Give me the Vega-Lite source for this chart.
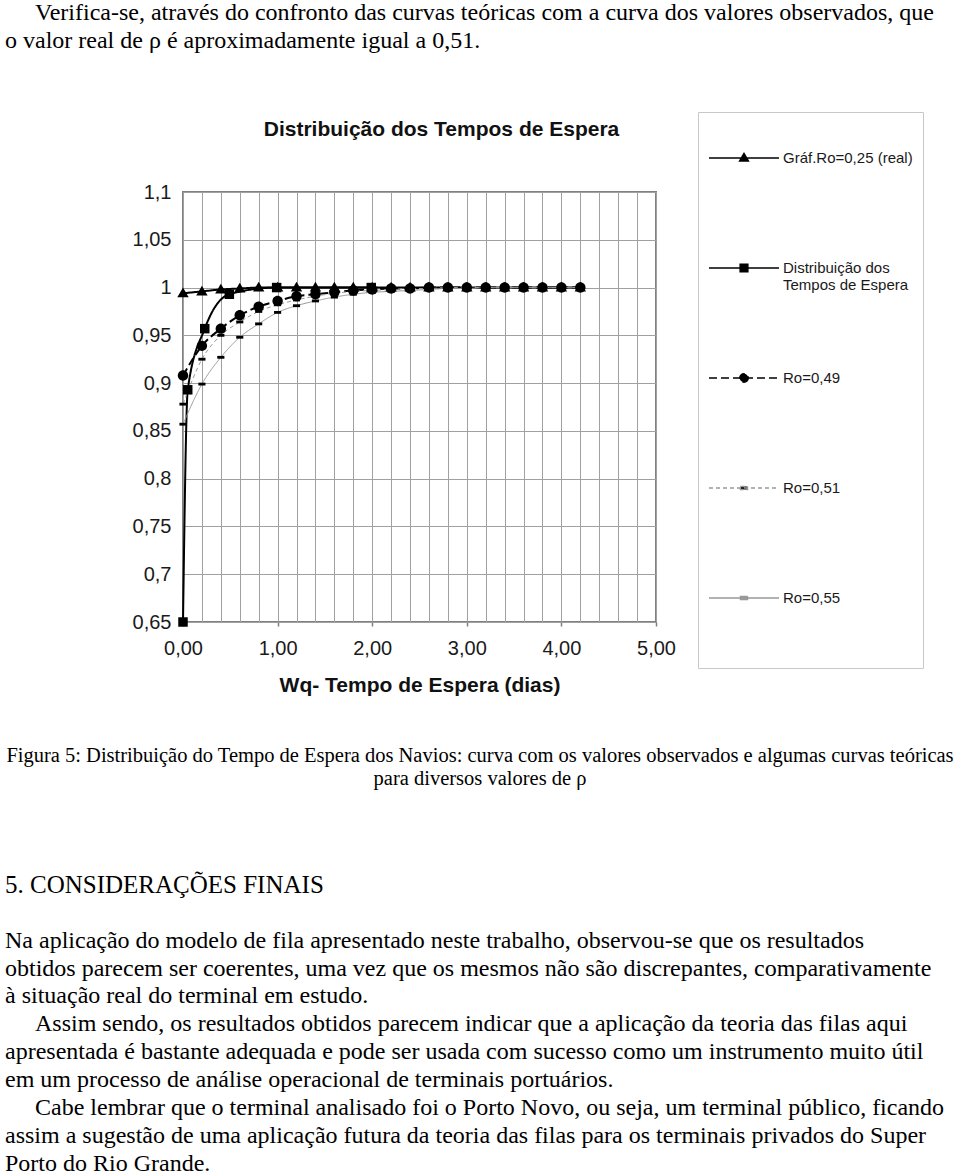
{
  "$schema": "https://vega.github.io/schema/vega-lite/v6.json",
  "background": "white",
  "padding": {"left": 5, "right": 5, "top": 0, "bottom": 0},
  "spacing": 0,
  "config": {
    "view": {"stroke": null},
    "font": "Liberation Sans",
    "axis": {"labelFont": "Liberation Sans", "titleFont": "Liberation Sans"}
  },
  "datasets": {
    "series": [
      {"serie": "Gráf.Ro=0,25 (real)", "x": 0, "y": 0.994},
      {"serie": "Gráf.Ro=0,25 (real)", "x": 0.2, "y": 0.996},
      {"serie": "Gráf.Ro=0,25 (real)", "x": 0.4, "y": 0.998},
      {"serie": "Gráf.Ro=0,25 (real)", "x": 0.6, "y": 0.999},
      {"serie": "Gráf.Ro=0,25 (real)", "x": 0.8, "y": 1},
      {"serie": "Gráf.Ro=0,25 (real)", "x": 1.0, "y": 1},
      {"serie": "Gráf.Ro=0,25 (real)", "x": 1.2, "y": 1},
      {"serie": "Gráf.Ro=0,25 (real)", "x": 1.4, "y": 1},
      {"serie": "Gráf.Ro=0,25 (real)", "x": 1.6, "y": 1},
      {"serie": "Gráf.Ro=0,25 (real)", "x": 1.8, "y": 1},
      {"serie": "Gráf.Ro=0,25 (real)", "x": 2.0, "y": 1},
      {"serie": "Gráf.Ro=0,25 (real)", "x": 2.2, "y": 1},
      {"serie": "Gráf.Ro=0,25 (real)", "x": 2.4, "y": 1},
      {"serie": "Gráf.Ro=0,25 (real)", "x": 2.6, "y": 1},
      {"serie": "Gráf.Ro=0,25 (real)", "x": 2.8, "y": 1},
      {"serie": "Gráf.Ro=0,25 (real)", "x": 3.0, "y": 1},
      {"serie": "Gráf.Ro=0,25 (real)", "x": 3.2, "y": 1},
      {"serie": "Gráf.Ro=0,25 (real)", "x": 3.4, "y": 1},
      {"serie": "Gráf.Ro=0,25 (real)", "x": 3.6, "y": 1},
      {"serie": "Gráf.Ro=0,25 (real)", "x": 3.8, "y": 1},
      {"serie": "Gráf.Ro=0,25 (real)", "x": 4.0, "y": 1},
      {"serie": "Gráf.Ro=0,25 (real)", "x": 4.2, "y": 1},
      {"serie": "Distribuição dos Tempos de Espera", "x": 0, "y": 0.65},
      {"serie": "Distribuição dos Tempos de Espera", "x": 0.05, "y": 0.893},
      {"serie": "Distribuição dos Tempos de Espera", "x": 0.23, "y": 0.957},
      {"serie": "Distribuição dos Tempos de Espera", "x": 0.49, "y": 0.993},
      {"serie": "Distribuição dos Tempos de Espera", "x": 0.99, "y": 1},
      {"serie": "Distribuição dos Tempos de Espera", "x": 1.99, "y": 1},
      {"serie": "Ro=0,49", "x": 0, "y": 0.908},
      {"serie": "Ro=0,49", "x": 0.2, "y": 0.939},
      {"serie": "Ro=0,49", "x": 0.4, "y": 0.957},
      {"serie": "Ro=0,49", "x": 0.6, "y": 0.971},
      {"serie": "Ro=0,49", "x": 0.8, "y": 0.98},
      {"serie": "Ro=0,49", "x": 1.0, "y": 0.986},
      {"serie": "Ro=0,49", "x": 1.2, "y": 0.991},
      {"serie": "Ro=0,49", "x": 1.4, "y": 0.993},
      {"serie": "Ro=0,49", "x": 1.6, "y": 0.995},
      {"serie": "Ro=0,49", "x": 1.8, "y": 0.997},
      {"serie": "Ro=0,49", "x": 2.0, "y": 0.998},
      {"serie": "Ro=0,49", "x": 2.2, "y": 0.999},
      {"serie": "Ro=0,49", "x": 2.4, "y": 0.999},
      {"serie": "Ro=0,49", "x": 2.6, "y": 1},
      {"serie": "Ro=0,49", "x": 2.8, "y": 1},
      {"serie": "Ro=0,49", "x": 3.0, "y": 1},
      {"serie": "Ro=0,49", "x": 3.2, "y": 1},
      {"serie": "Ro=0,49", "x": 3.4, "y": 1},
      {"serie": "Ro=0,49", "x": 3.6, "y": 1},
      {"serie": "Ro=0,49", "x": 3.8, "y": 1},
      {"serie": "Ro=0,49", "x": 4.0, "y": 1},
      {"serie": "Ro=0,49", "x": 4.2, "y": 1},
      {"serie": "Ro=0,51", "x": 0, "y": 0.878},
      {"serie": "Ro=0,51", "x": 0.2, "y": 0.925},
      {"serie": "Ro=0,51", "x": 0.4, "y": 0.95},
      {"serie": "Ro=0,51", "x": 0.6, "y": 0.964},
      {"serie": "Ro=0,51", "x": 0.8, "y": 0.975},
      {"serie": "Ro=0,51", "x": 1.0, "y": 0.982},
      {"serie": "Ro=0,51", "x": 1.2, "y": 0.987},
      {"serie": "Ro=0,51", "x": 1.4, "y": 0.991},
      {"serie": "Ro=0,51", "x": 1.6, "y": 0.994},
      {"serie": "Ro=0,51", "x": 1.8, "y": 0.996},
      {"serie": "Ro=0,51", "x": 2.0, "y": 0.997},
      {"serie": "Ro=0,51", "x": 2.2, "y": 0.998},
      {"serie": "Ro=0,51", "x": 2.4, "y": 0.999},
      {"serie": "Ro=0,51", "x": 2.6, "y": 0.999},
      {"serie": "Ro=0,51", "x": 2.8, "y": 1},
      {"serie": "Ro=0,51", "x": 3.0, "y": 1},
      {"serie": "Ro=0,51", "x": 3.2, "y": 1},
      {"serie": "Ro=0,51", "x": 3.4, "y": 1},
      {"serie": "Ro=0,51", "x": 3.6, "y": 1},
      {"serie": "Ro=0,51", "x": 3.8, "y": 1},
      {"serie": "Ro=0,51", "x": 4.0, "y": 1},
      {"serie": "Ro=0,51", "x": 4.2, "y": 1},
      {"serie": "Ro=0,55", "x": 0, "y": 0.857},
      {"serie": "Ro=0,55", "x": 0.2, "y": 0.899},
      {"serie": "Ro=0,55", "x": 0.4, "y": 0.927},
      {"serie": "Ro=0,55", "x": 0.6, "y": 0.948},
      {"serie": "Ro=0,55", "x": 0.8, "y": 0.962},
      {"serie": "Ro=0,55", "x": 1.0, "y": 0.974},
      {"serie": "Ro=0,55", "x": 1.2, "y": 0.981},
      {"serie": "Ro=0,55", "x": 1.4, "y": 0.986},
      {"serie": "Ro=0,55", "x": 1.6, "y": 0.99},
      {"serie": "Ro=0,55", "x": 1.8, "y": 0.993},
      {"serie": "Ro=0,55", "x": 2.0, "y": 0.995},
      {"serie": "Ro=0,55", "x": 2.2, "y": 0.996},
      {"serie": "Ro=0,55", "x": 2.4, "y": 0.997},
      {"serie": "Ro=0,55", "x": 2.6, "y": 0.998},
      {"serie": "Ro=0,55", "x": 2.8, "y": 0.999},
      {"serie": "Ro=0,55", "x": 3.0, "y": 0.999},
      {"serie": "Ro=0,55", "x": 3.2, "y": 1},
      {"serie": "Ro=0,55", "x": 3.4, "y": 1},
      {"serie": "Ro=0,55", "x": 3.6, "y": 1},
      {"serie": "Ro=0,55", "x": 3.8, "y": 1},
      {"serie": "Ro=0,55", "x": 4.0, "y": 1},
      {"serie": "Ro=0,55", "x": 4.2, "y": 1}
    ]
  },
  "vconcat": [
    {
      "width": 950,
      "height": 110,
      "data": {"values": [
        {"line": 1, "text": "\u200b\u00a0\u00a0\u00a0\u00a0\u00a0Verifica-se, através do confronto das curvas teóricas com a curva dos valores observados, que"},
        {"line": 2, "text": "o valor real de ρ é aproximadamente igual a 0,51."}
      ]},
      "mark": {"type": "text", "align": "left", "baseline": "middle", "font": "Liberation Serif", "fontSize": 24, "color": "#000000"},
      "encoding": {
        "x": {"datum": 0, "type": "quantitative", "scale": {"domain": [0, 1]}, "axis": null},
        "y": {"field": "line", "type": "quantitative", "scale": {"domain": [0.536, 4.464], "reverse": true, "nice": false, "zero": false}, "axis": null},
        "text": {"field": "text", "type": "nominal"}
      }
    },
    {
      "spacing": 0,
      "hconcat": [
        {
          "width": 1,
          "height": 1,
          "data": {"values": []},
          "mark": "text"
        },
        {
          "width": 473,
          "height": 430,
          "view": {"stroke": "#808080", "strokeWidth": 2},
          "data": {"name": "series"},
          "layer": [
            {
              "transform": [{"filter": {"field": "serie", "oneOf": ["Gráf.Ro=0,25 (real)", "Distribuição dos Tempos de Espera", "Ro=0,49"]}}],
              "mark": {"type": "line", "interpolate": "monotone", "strokeWidth": 2},
              "encoding": {
                "x": {"field": "x", "type": "quantitative", "scale": {"domain": [0, 5], "nice": false, "zero": false},
                  "axis": {"orient": "top", "values": [0, 0.2, 0.4, 0.6, 0.8, 1, 1.2, 1.4, 1.6, 1.8, 2, 2.2, 2.4, 2.6, 2.8, 3, 3.2, 3.4, 3.6, 3.8, 4, 4.2, 4.4, 4.6, 4.8, 5],
                    "grid": true, "gridColor": "#a0a0a0", "gridWidth": 1, "labels": false, "ticks": false, "domain": false,
                    "title": "Distribuição dos Tempos de Espera", "titleFontSize": 21, "titleFontWeight": "bold", "titleColor": "#111111",
                    "titlePadding": 53, "titleX": 258}},
                "y": {"field": "y", "type": "quantitative", "scale": {"domain": [0.65, 1.1], "nice": false, "zero": false},
                  "axis": {"values": [0.65, 0.7, 0.75, 0.8, 0.85, 0.9, 0.95, 1, 1.05, 1.1], "grid": true, "gridColor": "#a0a0a0", "gridWidth": 1,
                    "ticks": false, "domain": false, "labelExpr": "replace(format(datum.value, '.2~f'), '.', ',')",
                    "labelFontSize": 20, "labelColor": "#1a1a1a", "labelPadding": 12, "labelFlush": false, "labelOverlap": false,
                    "title": null, "minExtent": 176}},
                "stroke": {"field": "serie", "type": "nominal", "legend": null,
                  "scale": {"domain": ["Gráf.Ro=0,25 (real)", "Distribuição dos Tempos de Espera", "Ro=0,49", "Ro=0,51", "Ro=0,55"], "range": ["#000000", "#000000", "#000000", "#999999", "#999999"]}},
                "strokeDash": {"field": "serie", "type": "nominal", "legend": null,
                  "scale": {"domain": ["Gráf.Ro=0,25 (real)", "Distribuição dos Tempos de Espera", "Ro=0,49", "Ro=0,51", "Ro=0,55"], "range": [[1, 0], [1, 0], [8, 4], [4, 3], [1, 0]]}}
              }
            },
            {
              "transform": [{"filter": {"field": "serie", "oneOf": ["Ro=0,51", "Ro=0,55"]}}],
              "mark": {"type": "line", "interpolate": "monotone", "strokeWidth": 1},
              "encoding": {
                "x": {"field": "x", "type": "quantitative", "scale": {"domain": [0, 5], "nice": false, "zero": false}, "axis": null},
                "y": {"field": "y", "type": "quantitative", "scale": {"domain": [0.65, 1.1], "nice": false, "zero": false},
                  "axis": {"values": [0.65, 0.7, 0.75, 0.8, 0.85, 0.9, 0.95, 1, 1.05, 1.1], "grid": true, "gridColor": "#a0a0a0", "gridWidth": 1,
                    "ticks": false, "domain": false, "labelExpr": "replace(format(datum.value, '.2~f'), '.', ',')",
                    "labelFontSize": 20, "labelColor": "#1a1a1a", "labelPadding": 12, "labelFlush": false, "labelOverlap": false,
                    "title": null, "minExtent": 176}},
                "stroke": {"field": "serie", "type": "nominal", "legend": null,
                  "scale": {"domain": ["Gráf.Ro=0,25 (real)", "Distribuição dos Tempos de Espera", "Ro=0,49", "Ro=0,51", "Ro=0,55"], "range": ["#000000", "#000000", "#000000", "#999999", "#999999"]}},
                "strokeDash": {"field": "serie", "type": "nominal", "legend": null,
                  "scale": {"domain": ["Gráf.Ro=0,25 (real)", "Distribuição dos Tempos de Espera", "Ro=0,49", "Ro=0,51", "Ro=0,55"], "range": [[1, 0], [1, 0], [8, 4], [4, 3], [1, 0]]}}
              }
            },
            {
              "mark": {"type": "point", "filled": true, "color": "#000000", "opacity": 1, "size": 90, "strokeWidth": 0},
              "encoding": {
                "x": {"field": "x", "type": "quantitative", "scale": {"domain": [0, 5], "nice": false, "zero": false},
                  "axis": {"orient": "bottom", "values": [0, 1, 2, 3, 4, 5], "grid": false, "domain": false, "ticks": true, "tickSize": 4,
                    "tickColor": "#808080", "tickWidth": 1.5, "labelExpr": "replace(format(datum.value, '.2f'), '.', ',')",
                    "labelFontSize": 20, "labelColor": "#1a1a1a", "labelPadding": 12, "labelFlush": false, "labelOverlap": false,
                    "title": "Wq- Tempo de Espera (dias)", "titleFontSize": 21, "titleFontWeight": "bold", "titleColor": "#111111", "titlePadding": 16}},
                "y": {"field": "y", "type": "quantitative", "scale": {"domain": [0.65, 1.1], "nice": false, "zero": false},
                  "axis": {"values": [0.65, 0.7, 0.75, 0.8, 0.85, 0.9, 0.95, 1, 1.05, 1.1], "grid": true, "gridColor": "#a0a0a0", "gridWidth": 1,
                    "ticks": false, "domain": false, "labelExpr": "replace(format(datum.value, '.2~f'), '.', ',')",
                    "labelFontSize": 20, "labelColor": "#1a1a1a", "labelPadding": 12, "labelFlush": false, "labelOverlap": false,
                    "title": null, "minExtent": 176}},
                "shape": {"field": "serie", "type": "nominal", "legend": null,
                  "scale": {"domain": ["Gráf.Ro=0,25 (real)", "Distribuição dos Tempos de Espera", "Ro=0,49", "Ro=0,51", "Ro=0,55"],
                    "range": ["M0,-1.2L1.2,0.85L-1.2,0.85Z", "M-1,-1H1V1H-1Z", "M1.1,0A1.1,1.1,0,1,1,-1.1,0A1.1,1.1,0,1,1,1.1,0Z", "M-0.75,-0.3H0.75V0.3H-0.75Z", "M-0.75,-0.3H0.75V0.3H-0.75Z"]}}
              }
            },
            {
              "transform": [{"filter": "false"}],
              "mark": {"type": "point", "filled": true, "fill": "#000000", "opacity": 1},
              "encoding": {
                "shape": {"field": "serie", "type": "nominal",
                  "scale": {"domain": ["Gráf.Ro=0,25 (real)", "Distribuição dos Tempos de Espera", "Ro=0,49", "Ro=0,51", "Ro=0,55"],
                    "range": [
                      "M0,-1M0,1.61M-1,0H1M0,-0.13L0.125,0.085L-0.125,0.085Z",
                      "M0,-1M0,1.61M-1,0H1M-0.11,-0.11H0.11V0.11H-0.11Z",
                      "M0,-1M0,1.61M-1,0H1M0.12,0A0.12,0.12,0,1,1,-0.12,0A0.12,0.12,0,1,1,0.12,0Z",
                      "M0,-1M0,1.61M-1,0H1M-0.1,-0.045H0.1V0.045H-0.1Z",
                      "M0,-1M0,1.61M-1,0H1M-0.1,-0.045H0.1V0.045H-0.1Z"
                    ]},
                  "legend": {
                    "orient": "none", "legendX": 515, "legendY": -80, "direction": "vertical", "title": null,
                    "padding": 10, "strokeColor": "#c8c8c8", "fillColor": "#ffffff",
                    "symbolSize": 4900, "rowPadding": 12, "labelOffset": 3,
                    "labelFont": "Liberation Sans", "labelFontSize": 15, "labelColor": "#1a1a1a", "labelLimit": 300,
                    "labelExpr": "datum.label == 'Distribuição dos Tempos de Espera' ? ['Distribuição dos', 'Tempos de Espera'] : datum.label",
                    "encode": {
                      "symbols": {"strokeWidth": {"value": {"expr": "indexof(['Ro=0,51','Ro=0,55'], datum.value) >= 0 ? 1 : 2"}}},
                      "labels": {"dy": {"value": {"expr": "datum.value == 'Distribuição dos Tempos de Espera' ? 9 : 0"}}}
                    }
                  }},
                "stroke": {"field": "serie", "type": "nominal",
                  "scale": {"domain": ["Gráf.Ro=0,25 (real)", "Distribuição dos Tempos de Espera", "Ro=0,49", "Ro=0,51", "Ro=0,55"], "range": ["#000000", "#000000", "#000000", "#999999", "#999999"]}},
                "strokeDash": {"field": "serie", "type": "nominal",
                  "scale": {"domain": ["Gráf.Ro=0,25 (real)", "Distribuição dos Tempos de Espera", "Ro=0,49", "Ro=0,51", "Ro=0,55"], "range": [[1, 0], [1, 0], [8, 4], [4, 3], [1, 0]]}}
              }
            }
          ],
          "resolve": {
            "scale": {"shape": "independent", "stroke": "independent", "strokeDash": "independent"},
            "axis": {"x": "independent"}
          }
        }
      ]
    },
    {
      "width": 950,
      "height": 150,
      "data": {"values": [
        {"line": 1, "text": "Figura 5: Distribuição do Tempo de Espera dos Navios: curva com os valores observados e algumas curvas teóricas"},
        {"line": 2, "text": "para diversos valores de ρ"}
      ]},
      "mark": {"type": "text", "align": "center", "baseline": "middle", "font": "Liberation Serif", "fontSize": 20.5, "color": "#000000"},
      "encoding": {
        "y": {"field": "line", "type": "quantitative", "scale": {"domain": [-1.609, 4.913], "reverse": true, "nice": false, "zero": false}, "axis": null},
        "text": {"field": "text", "type": "nominal"}
      }
    },
    {
      "width": 950,
      "height": 328,
      "layer": [
        {
          "data": {"values": [{"line": 0, "text": "5. CONSIDERAÇÕES FINAIS"}]},
          "mark": {"type": "text", "align": "left", "baseline": "middle", "font": "Liberation Serif", "fontSize": 25, "color": "#000000"},
          "encoding": {
            "x": {"datum": 0, "type": "quantitative", "scale": {"domain": [0, 1]}, "axis": null},
            "y": {"field": "line", "type": "quantitative", "scale": {"domain": [-1.4, 10.37], "reverse": true, "nice": false, "zero": false}, "axis": null},
            "text": {"field": "text", "type": "nominal"}
          }
        },
        {
          "data": {"values": [
            {"line": 2, "text": "Na aplicação do modelo de fila apresentado neste trabalho, observou-se que os resultados"},
            {"line": 3, "text": "obtidos parecem ser coerentes, uma vez que os mesmos não são discrepantes, comparativamente"},
            {"line": 4, "text": "à situação real do terminal em estudo."},
            {"line": 5, "text": "\u200b\u00a0\u00a0\u00a0\u00a0\u00a0Assim sendo, os resultados obtidos parecem indicar que a aplicação da teoria das filas aqui"},
            {"line": 6, "text": "apresentada é bastante adequada e pode ser usada com sucesso como um instrumento muito útil"},
            {"line": 7, "text": "em um processo de análise operacional de terminais portuários."},
            {"line": 8, "text": "\u200b\u00a0\u00a0\u00a0\u00a0\u00a0Cabe lembrar que o terminal analisado foi o Porto Novo, ou seja, um terminal público, ficando"},
            {"line": 9, "text": "assim a sugestão de uma aplicação futura da teoria das filas para os terminais privados do Super"},
            {"line": 10, "text": "Porto do Rio Grande."}
          ]},
          "mark": {"type": "text", "align": "left", "baseline": "middle", "font": "Liberation Serif", "fontSize": 24, "color": "#000000"},
          "encoding": {
            "x": {"datum": 0, "type": "quantitative", "scale": {"domain": [0, 1]}, "axis": null},
            "y": {"field": "line", "type": "quantitative", "scale": {"domain": [-1.4, 10.37], "reverse": true, "nice": false, "zero": false}, "axis": null},
            "text": {"field": "text", "type": "nominal"}
          }
        }
      ]
    }
  ]
}
